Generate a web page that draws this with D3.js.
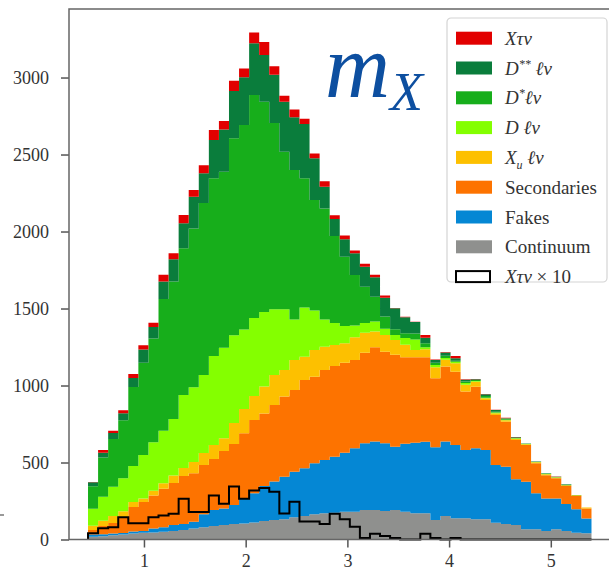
<!DOCTYPE html>
<html>
<head>
<meta charset="utf-8">
<script src="https://cdn.jsdelivr.net/npm/d3@7"></script>
<style>
	body { margin: 0; background: #fff; }
	text { font-family: "Liberation Serif"; fill: #333; }
</style>
</head>
<body>
<div id="chart-area"></div>
<script>
// SVG Size
let width = 609,
	height = 571;

// Bin edges of m_X (50 bins)
let binEdges = [0.45, 0.549, 0.648, 0.747, 0.846, 0.945, 1.044, 1.143, 1.242, 1.341,
	1.44, 1.539, 1.638, 1.737, 1.836, 1.935, 2.034, 2.133, 2.232, 2.331,
	2.43, 2.529, 2.628, 2.727, 2.826, 2.925, 3.024, 3.123, 3.222, 3.321,
	3.42, 3.519, 3.618, 3.717, 3.816, 3.915, 4.014, 4.113, 4.212, 4.311,
	4.41, 4.509, 4.608, 4.707, 4.806, 4.905, 5.004, 5.103, 5.202, 5.301, 5.4];

// Stacked components, bottom to top
let continuum = [18, 21, 27, 32, 39, 44, 45, 51, 55, 62, 71, 79, 88, 94, 101, 104, 110, 120, 127, 131,
	144, 153, 164, 170, 174, 181, 181, 192, 192, 185, 192, 181, 170, 170, 127, 153, 138, 138, 131, 131,
	109, 101, 94, 66, 66, 55, 66, 55, 44, 40];
let fakes = [14, 13, 12, 10, 13, 11, 27, 29, 39, 39, 44, 85, 104, 107, 123, 159, 190, 227, 249, 277,
	296, 310, 331, 346, 364, 383, 412, 433, 444, 440, 411, 440, 458, 465, 472, 483, 476, 444, 461, 450,
	375, 372, 297, 309, 234, 212, 201, 175, 152, 97];
let secondaries = [29, 54, 68, 97, 159, 188, 213, 249, 273, 312, 316, 320, 331, 373, 396, 427, 476, 472, 498, 520,
	531, 573, 562, 584, 589, 584, 573, 588, 613, 595, 596, 563, 555, 548, 448, 487, 476, 379, 400, 325,
	325, 292, 255, 238, 195, 151, 130, 117, 86, 65];
let xulnu = [29, 34, 45, 45, 32, 23, 32, 36, 49, 52, 73, 78, 91, 84, 136, 158, 156, 174, 195, 173,
	195, 151, 173, 151, 136, 126, 147, 130, 101, 108, 97, 80, 47, 52, 71, 44, 55, 44, 32, 11,
	11, 9, 8, 5, 6, 6, 5, 5, 5, 5];
let dlnu = [110, 156, 190, 214, 234, 282, 315, 341, 367, 474, 485, 507, 578, 588, 571, 516, 507, 484, 427, 394,
	263, 320, 257, 177, 143, 112, 77, 63, 65, 40, 32, 44, 69, 13, 15, 11, 10, 11, 5, 4,
	4, 4, 3, 2, 2, 2, 2, 1, 1, 1];
let dstarlnu = [146, 255, 310, 377, 513, 599, 673, 855, 892, 953, 1031, 1117, 1154, 1142, 1279, 1328, 1448, 1366, 1208, 1023,
	971, 839, 718, 722, 565, 450, 328, 236, 162, 80, 37, 32, 39, 26, 15, 15, 6, 10, 6, 11,
	6, 8, 2, 1, 1, 2, 2, 3, 1, 0];
let dstarstarlnu = [26, 31, 39, 45, 58, 87, 75, 114, 145, 162, 205, 193, 249, 275, 307, 310, 336, 303, 314, 325,
	342, 353, 270, 140, 110, 113, 141, 130, 126, 122, 136, 104, 75, 36, 18, 21, 16, 11, 6, 11,
	11, 2, 5, 3, 2, 2, 2, 3, 0, 0];
let xtaunu = [2, 18, 16, 19, 26, 28, 27, 44, 39, 54, 44, 51, 65, 54, 66, 57, 70, 84, 55, 39,
	51, 34, 31, 37, 25, 25, 18, 19, 17, 14, 2, 2, 1, 18, 3, 3, 15, 3, 2, 2,
	2, 2, 2, 0, 1, 1, 1, 0, 0, 0];

// X tau nu scaled by 10 (outline)
let xtaunu10 = [41, 73, 80, 145, 106, 106, 145, 156, 167, 265, 178, 178, 286, 232, 344, 265, 318, 335, 310, 169,
	245, 117, 117, 101, 167, 132, 83, 10, 37, 23, 10, 0, 0, 37, 10, 0, 10, 0, 0, 0,
	0, 0, 0, 0, 0, 0, 0, 0, 0, 0];

let keys = ["continuum", "fakes", "secondaries", "xulnu", "dlnu", "dstarlnu", "dstarstarlnu", "xtaunu"];
let colors = ["#8f908e", "#0587d4", "#fd7300", "#fdc000", "#84ff00", "#17ae1b", "#0a7d3c", "#e20000"];

let xTicks = [1, 2, 3, 4, 5];
let yTicks = [0, 500, 1000, 1500, 2000, 2500, 3000];

// Legend (top to bottom)
let legendLabels = [
	[["X", "i"], ["τν", "i"]],
	[["D", "i"], ["**", "sup"], [" ℓν", "i"]],
	[["D", "i"], ["*", "sup"], ["ℓν", "i"]],
	[["D ℓν", "i"]],
	[["X", "i"], ["u", "sub"], [" ℓν", "i"]],
	[["Secondaries", "r"]],
	[["Fakes", "r"]],
	[["Continuum", "r"]],
	[["X", "i"], ["τν", "i"], [" × 10", "r"]]
];
let legendKeys = ["xtaunu", "dstarstarlnu", "dstarlnu", "dlnu", "xulnu", "secondaries", "fakes", "continuum", "outline"];

let table = binEdges.slice(0, 50).map((e, i) => ({
	x0: e,
	continuum: continuum[i],
	fakes: fakes[i],
	secondaries: secondaries[i],
	xulnu: xulnu[i],
	dlnu: dlnu[i],
	dstarlnu: dstarlnu[i],
	dstarstarlnu: dstarstarlnu[i],
	xtaunu: xtaunu[i]
}));

drawChart(table);

function drawChart(data) {
	let svg = d3.select("#chart-area").append("svg")
		.attr("width", width)
		.attr("height", height);

	let x = d3.scaleLinear()
		.domain([0.263, 5.7])
		.range([69, 622]);

	let y = d3.scaleLinear()
		.domain([0, 3445])
		.range([539.5, 9]);

	let color = d3.scaleOrdinal().domain(keys).range(colors);

	let series = d3.stack().keys(keys)(data);

	// Step-shaped stacked areas
	let area = d3.area()
		.curve(d3.curveStepAfter)
		.x(d => x(d[0]))
		.y0(d => y(d[1]))
		.y1(d => y(d[2]));

	svg.append("g")
		.selectAll("path")
		.data(series)
		.enter()
		.append("path")
		.attr("fill", d => color(d.key))
		.attr("d", layer => {
			let pts = layer.map((d, i) => [binEdges[i], d[0], d[1]]);
			let last = layer[layer.length - 1];
			pts.push([binEdges[50], last[0], last[1]]);
			return area(pts);
		});

	// X tau nu x 10 outline
	let stepPts = [[binEdges[0], 0]];
	xtaunu10.forEach((v, i) => stepPts.push([binEdges[i], v]));
	stepPts.push([binEdges[50], xtaunu10[49]]);
	stepPts.push([binEdges[50], 0]);

	svg.append("path")
		.attr("d", d3.line().curve(d3.curveStepAfter).x(d => x(d[0])).y(d => y(d[1]))(stepPts))
		.attr("fill", "none")
		.attr("stroke", "#000")
		.attr("stroke-width", 2);

	// Axes
	let xAxis = d3.axisBottom(x).tickValues(xTicks).tickFormat(d3.format("d")).tickSize(8).tickPadding(7);
	let yAxis = d3.axisLeft(y).tickValues(yTicks).tickFormat(d3.format("d")).tickSize(8).tickPadding(12);

	let gx = svg.append("g")
		.attr("transform", "translate(0," + y(0) + ")")
		.call(xAxis);
	let gy = svg.append("g")
		.attr("transform", "translate(" + x.range()[0] + ",0)")
		.call(yAxis);

	[gx, gy].forEach(g => {
		g.attr("font-family", "Liberation Serif").attr("font-size", 18);
		g.select(".domain").remove();
		g.selectAll("line").attr("stroke", "#555").attr("stroke-width", 1.5);
		g.selectAll("text").attr("fill", "#333");
	});

	// Frame
	svg.append("path")
		.attr("d", "M" + width + "," + y.range()[1] + "H" + x.range()[0] + "V" + y(0) + "H" + width)
		.attr("fill", "none")
		.attr("stroke", "#666")
		.attr("stroke-width", 1.5);

	// stray mark at left edge
	svg.append("line")
		.attr("x1", 0).attr("x2", 4)
		.attr("y1", 515).attr("y2", 515)
		.attr("stroke", "#777").attr("stroke-width", 1.5);

	// m_X label
	let lab = svg.append("text")
		.attr("x", 325)
		.attr("y", 97)
		.style("fill", "#0d4fa0")
		.style("font-style", "italic");
	lab.append("tspan").style("font-size", "90px").text("m");
	lab.append("tspan").attr("dy", 13).style("font-size", "54px").text("X");

	// Legend
	let legend = svg.append("g").attr("transform", "translate(447,18)");

	legend.append("rect")
		.attr("width", 160)
		.attr("height", 264)
		.attr("rx", 4)
		.attr("fill", "#fff")
		.attr("stroke", "#d4d4d4")
		.attr("stroke-width", 1.2);

	let entry = legend.selectAll(".entry")
		.data(legendLabels)
		.enter()
		.append("g")
		.attr("class", "entry")
		.attr("transform", (d, i) => "translate(0," + (13.7 + i * 29.8) + ")");

	entry.append("rect")
		.attr("x", 9)
		.attr("y", (d, i) => i === 8 ? 1 : 0)
		.attr("width", (d, i) => i === 8 ? 34 : 36)
		.attr("height", (d, i) => i === 8 ? 11 : 13)
		.attr("fill", (d, i) => legendKeys[i] === "outline" ? "#fff" : color(legendKeys[i]))
		.attr("stroke", (d, i) => legendKeys[i] === "outline" ? "#000" : "none")
		.attr("stroke-width", 2);

	entry.each(function(parts) {
		let t = d3.select(this).append("text")
			.attr("x", 58)
			.attr("y", 13)
			.style("font-size", "19px");
		let shift = 0;
		parts.forEach(p => {
			let ts = t.append("tspan").text(p[0]);
			let target = p[1] === "sup" ? -7 : p[1] === "sub" ? 5 : 0;
			if (target !== shift) {
				ts.attr("dy", target - shift);
				shift = target;
			}
			if (p[1] === "i") ts.style("font-style", "italic");
			if (p[1] === "sup" || p[1] === "sub") ts.style("font-size", "12px").style("font-style", "italic");
		});
	});
}
</script>
</body>
</html>
